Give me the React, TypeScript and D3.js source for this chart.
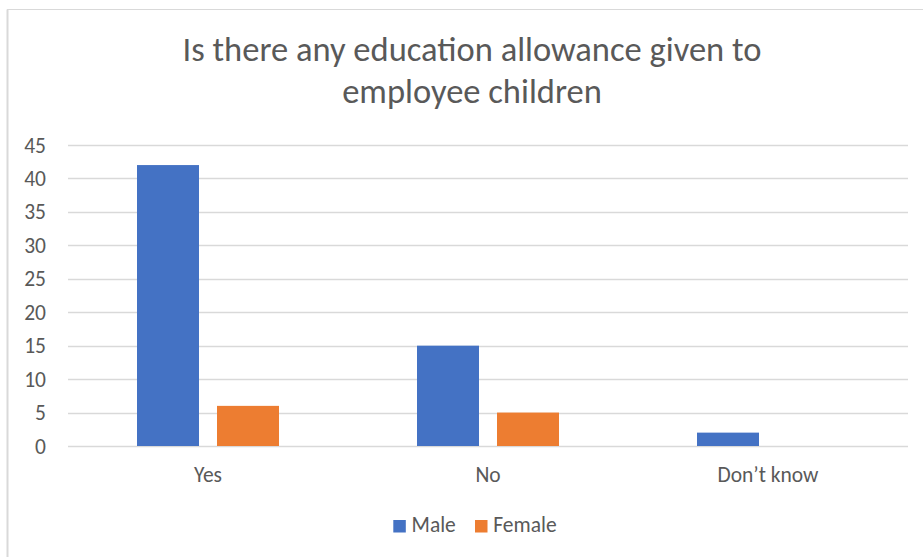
import React from "react";
import * as d3 from "d3";

const categories = ["Yes", "No", "Don\u2019t know"];
const seriesNames = ["Male", "Female"];
const maleValues = [42, 15, 2];
const femaleValues = [6, 5, 0];
const yTicks = [0, 5, 10, 15, 20, 25, 30, 35, 40, 45];
const titleLines = ["Is there any education allowance given to", "employee children"];

const colors: Record<string, string> = { Male: "#4472C4", Female: "#ED7D31" };
const FONT = "Carlito, Calibri, Lato, 'Open Sans', sans-serif";
const TEXT = "#595959";

export default function App() {
  const W = 923;
  const H = 557;
  const left = 68;
  const right = 908;
  const top = 145;
  const bottom = 446;
  const LBL = 21.5;

  const x0 = d3.scaleBand<string>().domain(categories).range([left, right]).padding(0);
  const half = 71;
  const x1 = d3
    .scaleBand<string>()
    .domain(seriesNames)
    .range([x0.bandwidth() / 2 - half, x0.bandwidth() / 2 + half])
    .paddingInner(0.225)
    .paddingOuter(0);
  const y = d3.scaleLinear().domain([0, 45]).range([bottom, top]);

  const valuesBySeries: Record<string, number[]> = { Male: maleValues, Female: femaleValues };

  return (
    <svg
      width={W}
      height={H}
      style={{ position: "absolute", left: 0, top: 0, background: "#fff" }}
      fontFamily={FONT}
    >
      <rect x={0} y={0} width={W} height={H} fill="#fff" />
      <rect x={7.5} y={9.5} width={W + 20} height={H + 20} fill="#fff" stroke="#d9d9d9" strokeWidth={1} />
      <line x1={7.5} x2={7.5} y1={9.5} y2={H} stroke="#d9d9d9" strokeWidth={2} />

      {titleLines.map((t, i) => (
        <text key={t} x={472} y={61 + i * 42} textAnchor="middle" fontSize={34.5} fill={TEXT}>
          {t}
        </text>
      ))}

      {yTicks.map((t) => (
        <g key={t}>
          <line x1={left} x2={right} y1={Math.round(y(t)) + 0.5} y2={Math.round(y(t)) + 0.5} stroke="#d9d9d9" strokeWidth={1.3} />
          <text x={46} y={y(t)} dy="0.35em" textAnchor="end" fontSize={LBL} fill={TEXT}>
            {t}
          </text>
        </g>
      ))}

      {categories.map((c, ci) => (
        <g key={c} transform={`translate(${x0(c)},0)`}>
          {seriesNames.map((s) => {
            const v = valuesBySeries[s][ci];
            if (!v) return null;
            return (
              <rect
                key={s}
                x={x1(s)}
                y={y(v)}
                width={x1.bandwidth()}
                height={y(0) - y(v)}
                fill={colors[s]}
              />
            );
          })}
          <text x={x0.bandwidth() / 2} y={482} textAnchor="middle" fontSize={LBL} fill={TEXT}>
            {c}
          </text>
        </g>
      ))}

      <g>
        <rect x={393.3} y={520} width={12.5} height={12.5} fill={colors.Male} />
        <text x={411.5} y={532.3} fontSize={LBL} fill={TEXT}>Male</text>
        <rect x={475} y={520} width={12.5} height={12.5} fill={colors.Female} />
        <text x={493.3} y={532.3} fontSize={LBL} fill={TEXT}>Female</text>
      </g>
    </svg>
  );
}
